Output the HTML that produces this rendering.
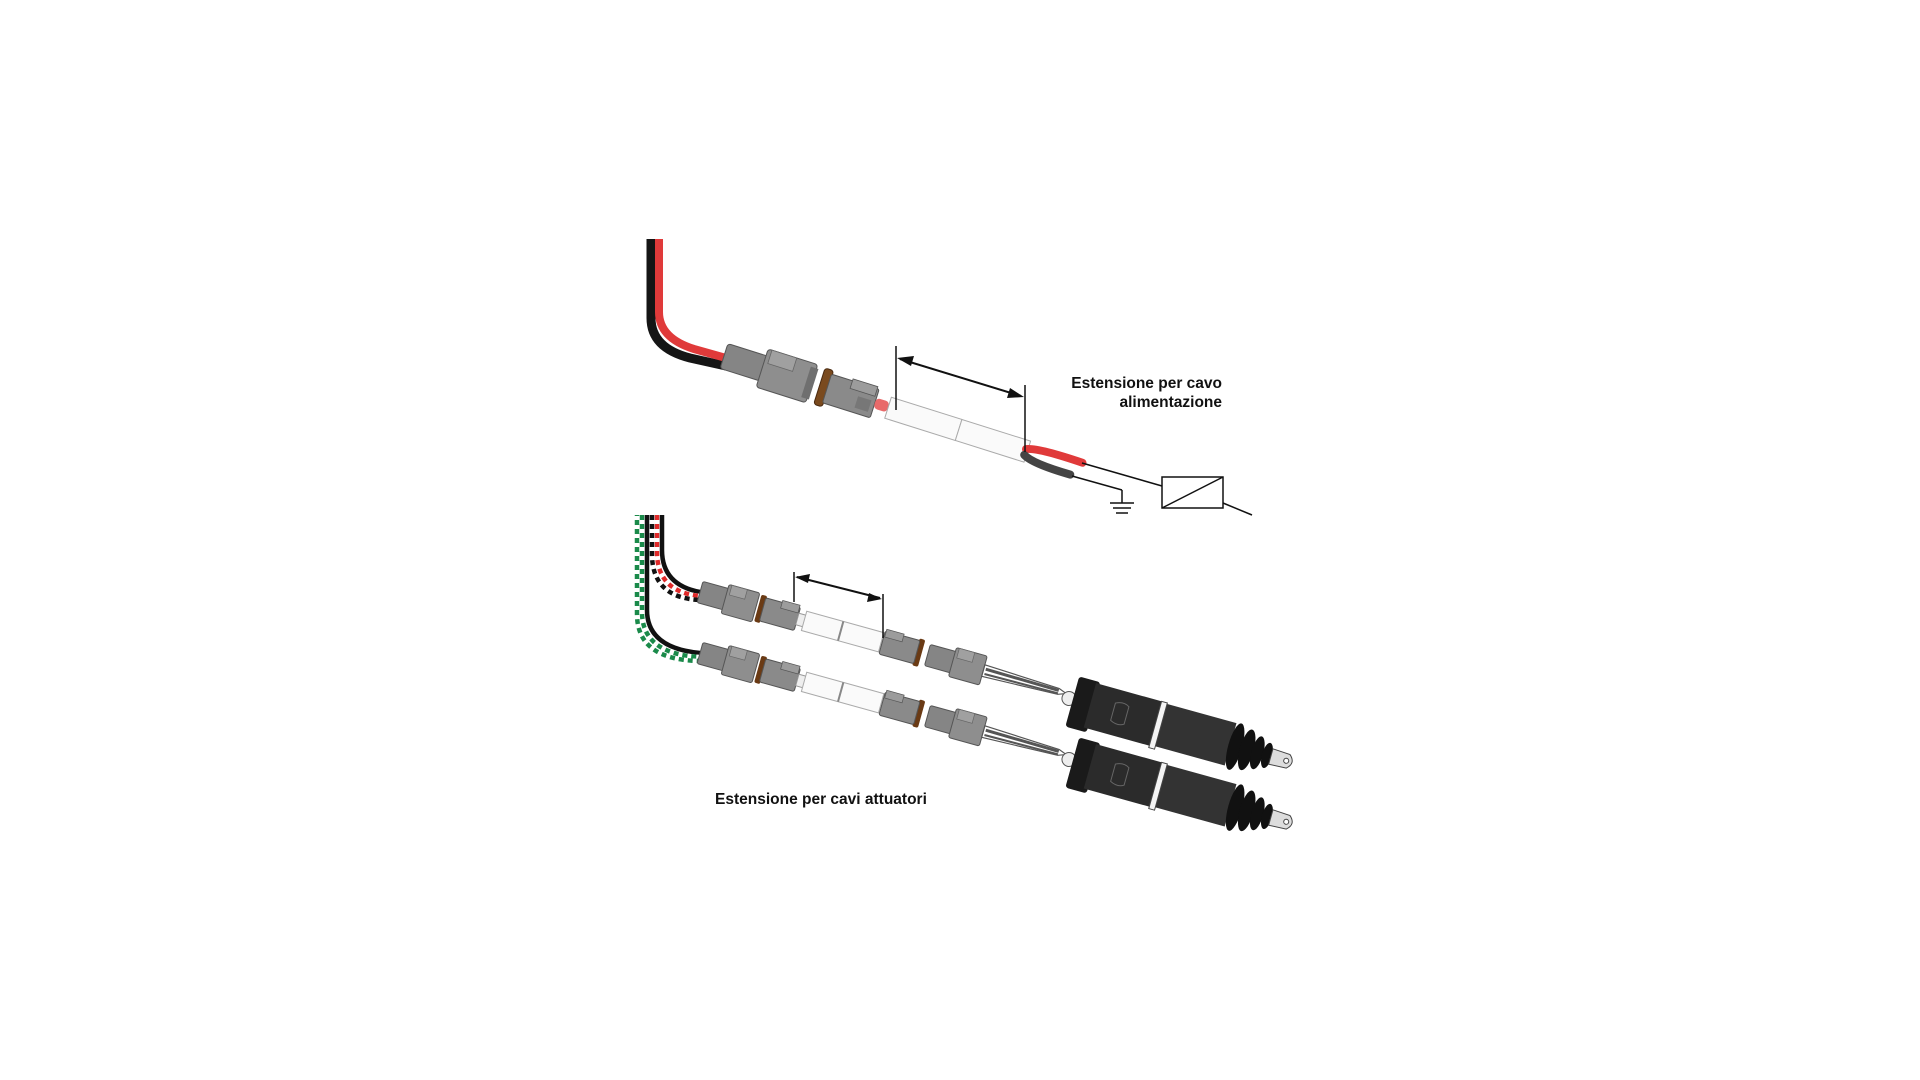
<!DOCTYPE html>
<html><head><meta charset="utf-8"><style>
html,body{margin:0;padding:0;background:#fff;width:1920px;height:1080px;overflow:hidden}
svg{position:absolute;left:0;top:0}
text{font-family:"Liberation Sans",Arial,sans-serif;font-weight:bold;font-size:15.5px;fill:#111}
</style></head><body>
<svg width="1920" height="1080" viewBox="0 0 1920 1080">
<defs>
<g id="male">
  <rect x="0" y="-13" width="42" height="26" rx="3" fill="#858585" stroke="#555" stroke-width="1"/>
  <rect x="40" y="-20" width="52" height="40" rx="3" fill="#8e8e8e" stroke="#555" stroke-width="1"/>
  <rect x="44" y="-20" width="26" height="14" fill="#a0a0a0" stroke="#666" stroke-width="0.8"/>
  <rect x="86" y="-16" width="8" height="32" fill="#6f6f6f"/>
</g>
<g id="female">
  <rect x="0" y="-19" width="9" height="38" rx="3" fill="#7a4a1e" stroke="#4a2a10" stroke-width="1"/>
  <rect x="8" y="-15" width="50" height="30" rx="2" fill="#8a8a8a" stroke="#555" stroke-width="1"/>
  <rect x="30" y="-17" width="26" height="10" fill="#9c9c9c" stroke="#555" stroke-width="0.8"/>
  <rect x="40" y="-2" width="14" height="12" fill="#777"/>
</g>
<g id="maleS">
  <rect x="0" y="-11" width="28" height="22" rx="2" fill="#858585" stroke="#555"/>
  <rect x="26" y="-15" width="32" height="30" rx="2" fill="#8e8e8e" stroke="#555"/>
  <rect x="29" y="-15" width="16" height="10" fill="#a0a0a0" stroke="#666" stroke-width="0.7"/>
</g>
<g id="femaleS">
  <rect x="0" y="-14" width="6" height="28" rx="2" fill="#6a3a14"/>
  <rect x="5" y="-12" width="36" height="24" rx="2" fill="#8a8a8a" stroke="#555"/>
  <rect x="22" y="-14" width="18" height="8" fill="#9c9c9c" stroke="#555" stroke-width="0.7"/>
</g>
<g id="row">
  <use href="#maleS" x="0" y="0"/>
  <use href="#femaleS" x="60" y="0"/>
  <rect x="101" y="-6" width="9" height="12" fill="#eee" stroke="#999"/>
  <rect x="108" y="-10" width="80" height="20" fill="#fafafa" stroke="#aaa"/>
  <line x1="146" y1="-10" x2="146" y2="10" stroke="#888" stroke-width="2"/>
  <g transform="translate(230,0) scale(-1,1)"><use href="#femaleS"/></g>
  <g transform="translate(236,0)"><use href="#maleS"/></g>
  <path d="M294 -6 L372 -3 L380 0 L372 3 L294 6 Z" fill="#fff" stroke="#555" stroke-width="1.2"/>
  <line x1="296" y1="-2" x2="372" y2="-1" stroke="#555" stroke-width="3"/>
  <line x1="296" y1="3" x2="372" y2="2" stroke="#555" stroke-width="2"/>
  <circle cx="384" cy="4" r="7" fill="#eee" stroke="#555"/>
  <g transform="translate(0,6)">
  <rect x="388" y="-26" width="22" height="52" rx="3" fill="#1a1a1a"/>
  <rect x="406" y="-24" width="72" height="46" fill="#2b2b2b"/>
  <rect x="476" y="-23" width="76" height="44" fill="#333"/>
  <rect x="474" y="-24" width="6" height="48" fill="#f4f4f4" stroke="#444"/>
  <path d="M430 -10 q8 -4 14 0 v18 q-6 4 -14 0z" fill="none" stroke="#666"/>
  <ellipse cx="557" cy="0" rx="7" ry="24" fill="#111"/>
  <ellipse cx="569" cy="0" rx="7" ry="21" fill="#111"/>
  <ellipse cx="580" cy="0" rx="6" ry="17" fill="#111"/>
  <ellipse cx="590" cy="0" rx="5" ry="13" fill="#111"/>
  <path d="M594 -8 L612 -7 Q620 0 612 7 L594 8 Z" fill="#ddd" stroke="#444"/>
  <circle cx="610" cy="0" r="2.5" fill="#fff" stroke="#444"/>
  </g>
</g>
</defs>

<!-- top cable -->
<path d="M651 239 V318 Q651 348 690 358 L726 366" fill="none" stroke="#151515" stroke-width="9"/>
<path d="M659 239 V312 Q659 338 694 349 L726 358" fill="none" stroke="#e03a3a" stroke-width="8"/>

<g transform="translate(724,356) rotate(17.5)">
  <use href="#male" x="0" y="0"/>
  <use href="#female" x="100" y="0"/>
  <rect x="158" y="-6" width="14" height="11" rx="4" fill="#e86a6a"/>
  <rect x="172" y="-11" width="74" height="22" fill="#fafafa" stroke="#aaa"/>
  <rect x="246" y="-11" width="72" height="22" fill="#fafafa" stroke="#aaa"/>
  <path d="M316 -2 Q326 -7 374 -6" fill="none" stroke="#e03a3a" stroke-width="8" stroke-linecap="round"/>
  <path d="M316 4 Q326 10 366 9" fill="none" stroke="#444" stroke-width="8" stroke-linecap="round"/>
</g>
<!-- dimension top -->
<line x1="896" y1="346" x2="896" y2="410" stroke="#111" stroke-width="1.5"/>
<line x1="1025" y1="385" x2="1025" y2="452" stroke="#111" stroke-width="1.5"/>
<line x1="900" y1="359" x2="1021" y2="396" stroke="#111" stroke-width="2"/>
<path d="M897 358 L914 356 L911 366 Z M1024 397 L1007 398 L1010 388 Z" fill="#111"/>

<!-- schematic -->
<line x1="1082" y1="463" x2="1162" y2="486" stroke="#111" stroke-width="1.5"/>
<line x1="1072" y1="476" x2="1122" y2="490" stroke="#111" stroke-width="1.5"/>
<line x1="1122" y1="490" x2="1122" y2="503" stroke="#111" stroke-width="1.5"/>
<line x1="1110" y1="503" x2="1134" y2="503" stroke="#111" stroke-width="1.5"/>
<line x1="1113" y1="508" x2="1131" y2="508" stroke="#111" stroke-width="1.5"/>
<line x1="1116" y1="513" x2="1128" y2="513" stroke="#111" stroke-width="1.5"/>
<rect x="1162" y="477" width="61" height="31" fill="#fff" stroke="#111" stroke-width="1.5"/>
<line x1="1162" y1="508" x2="1223" y2="477" stroke="#111" stroke-width="1.5"/>
<line x1="1223" y1="503" x2="1252" y2="515" stroke="#111" stroke-width="1.5"/>

<text x="1222" y="388" text-anchor="end">Estensione per cavo</text>
<text x="1222" y="407" text-anchor="end">alimentazione</text>

<!-- bottom cables -->
<g fill="none" stroke-width="4.5">
  <path d="M662 515 V550 Q662 585 700 592" stroke="#111"/>
  <path d="M657 515 V552 Q657 592 700 596" stroke="#fff"/>
  <path d="M657 515 V552 Q657 592 700 596" stroke="#e02a2a" stroke-dasharray="5 4"/>
  <path d="M652 515 V554 Q652 598 700 600" stroke="#fff"/>
  <path d="M652 515 V554 Q652 598 700 600" stroke="#111" stroke-dasharray="5 4"/>
  <path d="M647 515 V610 Q647 648 700 653" stroke="#111"/>
  <path d="M642 515 V612 Q642 654 700 657" stroke="#fff"/>
  <path d="M642 515 V612 Q642 654 700 657" stroke="#1a8a4a" stroke-dasharray="5 4"/>
  <path d="M637 515 V614 Q637 660 700 661" stroke="#fff"/>
  <path d="M637 515 V614 Q637 660 700 661" stroke="#1a8a4a" stroke-dasharray="5 4" stroke-dashoffset="4"/>
</g>

<g transform="translate(700,592) rotate(15.5)"><use href="#row"/></g>
<g transform="translate(700,653) rotate(15.5)"><use href="#row"/></g>

<!-- dimension bottom -->
<line x1="794" y1="572" x2="794" y2="602" stroke="#111" stroke-width="1.5"/>
<line x1="883" y1="594" x2="883" y2="638" stroke="#111" stroke-width="1.5"/>
<line x1="797" y1="577" x2="880" y2="598" stroke="#111" stroke-width="2"/>
<path d="M795 577 L810 574 L808 583 Z M882 599 L867 602 L869 593 Z" fill="#111"/>

<text x="715" y="804">Estensione per cavi attuatori</text>
</svg>
</body></html>
